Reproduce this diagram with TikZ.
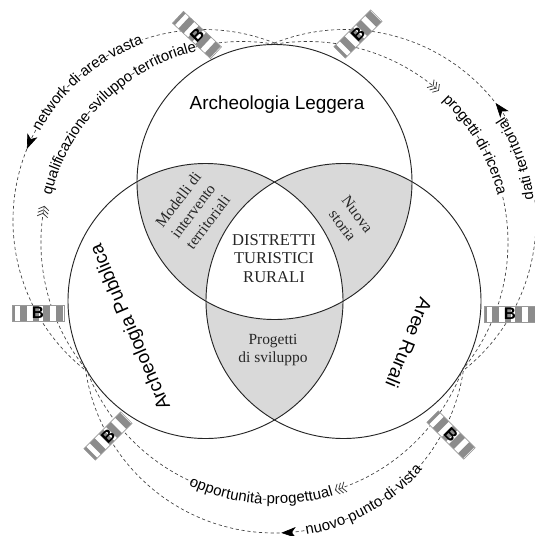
\documentclass[tikz,border=0pt]{standalone}
\usepackage{fontspec}
\setmainfont{Liberation Serif}
\setsansfont{Liberation Sans}
\usetikzlibrary{decorations.text,arrows.meta}
\definecolor{regiongray}{gray}{0.85}
\definecolor{bargray}{gray}{0.55}
\tikzset{
  x=0.75pt,y=-0.75pt,
  venn/.style={draw=black!85,line width=0.7pt},
  flow/.style={draw=black!75,line width=0.5pt,dash pattern=on 2.4pt off 2pt},
  gapstroke/.style={draw=black!75,line width=0.5pt},
  solidhead/.style={-{Stealth[length=11pt,width=8pt,inset=3pt,black]}},
  chevrons/.style={-{Straight Barb[length=2.6pt,width=8pt,black!75,line width=.6pt,sep=-0.6pt] Straight Barb[length=2.6pt,width=8pt,black!75,line width=.6pt,sep=-0.6pt] Straight Barb[length=2.6pt,width=8pt,black!75,line width=.6pt]}},
  maintitle/.style={font=\sffamily\fontsize{14.2}{17}\selectfont},
  serifsmall/.style={font=\rmfamily\fontsize{11.6}{13.9}\selectfont,align=center,text=black!85},
  gatelabel/.style={font=\sffamily\bfseries\fontsize{12.5}{13}\selectfont,inner sep=0pt},
  pics/gate/.style={code={
    \fill[white] (-26,-8) rectangle (26,8);
    \foreach \a/\b in {-26/-23,-18/-11,-5/1,5/12,18/25}{\fill[bargray] (\a,-8) rectangle (\b,8);}
    \draw[black!40,line width=0.5pt] (-26,-8) rectangle (26,8);
    \node[gatelabel,rotate=#1] at (0,0) {B};
  }}
}
\newcommand{\ringtext}[6]{% center-x, center-y, radius, start, end, text
  \path[decorate,decoration={text along path,text align=center,raise=-3.4pt,
    text={|\sffamily\fontsize{11.2}{13}\selectfont|#6}}]
    ([shift={(#4:#3)}]#1,#2) arc[start angle=#4,end angle=#5,radius=#3];}
\newcommand{\gapdash}[4]{% center-x, center-y, radius, list of angles
  \foreach \g in {#4}{
    \draw[gapstroke] ([shift={(\g-0.5:#3)}]#1,#2) arc[start angle=\g-0.5,end angle=\g+0.5,radius=#3];}}
\begin{document}
\begin{tikzpicture}
\useasboundingbox (0,0) rectangle (535,536);
\coordinate (ctop) at (274.5,182);
\coordinate (cleft) at (205.5,301);
\coordinate (cright) at (343.5,301);
% shaded lens regions
\begin{scope}
  \clip (ctop) circle[radius=137.5*0.75pt];
  \fill[regiongray] (cleft) circle[radius=137.5*0.75pt];
  \fill[regiongray] (cright) circle[radius=137.5*0.75pt];
\end{scope}
\begin{scope}
  \clip (cleft) circle[radius=137.5*0.75pt];
  \fill[regiongray] (cright) circle[radius=137.5*0.75pt];
\end{scope}
\begin{scope}
  \clip (cleft) circle[radius=137.5*0.75pt];
  \clip (cright) circle[radius=137.5*0.75pt];
  \fill[white] (ctop) circle[radius=137.5*0.75pt];
\end{scope}
\draw[venn] (ctop) circle[radius=137.5*0.75pt];
\draw[venn] (cleft) circle[radius=137.5*0.75pt];
\draw[venn] (cright) circle[radius=137.5*0.75pt];
\def\Rr{143.25pt}\def\Ri{150.75pt}\def\Rrin{139pt}
% outer left
\draw[flow] ([shift={(68.2:\Rr)}]204,220.5) arc[start angle=68.2,end angle=108.8,radius=\Rr];
\draw[flow] ([shift={(158:\Rr)}]204,220.5) arc[start angle=158,end angle=231.3,radius=\Rr];
% inner left
\draw[flow] ([shift={(80.7:\Ri)}]242,242.5) arc[start angle=80.7,end angle=103.4,radius=\Ri];
\draw[flow,chevrons] ([shift={(218.8:\Ri)}]242,242.5) arc[start angle=218.8,end angle=169.5,radius=\Ri];
% outer right
\draw[flow] ([shift={(111.8:\Rr)}]345,220.5) arc[start angle=111.8,end angle=38,radius=\Rr];
\draw[flow] ([shift={(6.2:\Rr)}]345,220.5) arc[start angle=6.2,end angle=-51.3,radius=\Rr];
% inner right
\draw[flow,chevrons] ([shift={(99.3:\Ri)}]307,242.5) arc[start angle=99.3,end angle=49,radius=\Ri];
\draw[flow] ([shift={(13.1:\Ri)}]307,242.5) arc[start angle=13.1,end angle=-38.8,radius=\Ri];
% outer bottom
\draw[flow] ([shift={(187.9:\Rr)}]274.5,342) arc[start angle=187.9,end angle=272,radius=\Rr];
\draw[flow] ([shift={(318.6:\Rr)}]274.5,342) arc[start angle=318.6,end angle=352.1,radius=\Rr];
% inner bottom
\draw[flow] ([shift={(200.2:\Ri)}]274.5,298.5) arc[start angle=200.2,end angle=246.2,radius=\Ri];
\draw[flow,chevrons] ([shift={(339.8:\Ri)}]274.5,298.5) arc[start angle=339.8,end angle=287.5,radius=\Ri];
% dashes showing through the word spaces
\gapdash{204}{220.5}{\Rr}{135.2,130.5,120.3}
\gapdash{242}{242.5}{\Ri}{139.65,122.85}
\gapdash{307}{242.5}{\Ri}{31.6,27.1}
\gapdash{345}{220.5}{\Rrin}{15.7}
\gapdash{274.5}{298.5}{\Ri}{267.1}
\gapdash{274.5}{342}{\Rr}{292.2,304.7,309.4}
% ring texts
\ringtext{204}{220.5}{\Rr}{151.7}{108.8}{network di area vasta}
\ringtext{242}{242.5}{\Ri}{166}{103.4}{qualificazione sviluppo territoriale}
\ringtext{307}{242.5}{\Ri}{47.1}{13.1}{progetti di ricerca}
\ringtext{345}{220.5}{\Rrin}{7.7}{32.9}{dati territoriali}
\ringtext{274.5}{298.5}{\Ri}{246.2}{286.7}{opportunità progettuali}
\ringtext{274.5}{342}{\Rr}{280}{318.6}{nuovo punto di vista}
% solid heads
\draw[flow,solidhead] ([shift={(151.7:\Rr)}]204,220.5) arc[start angle=151.7,end angle=158,radius=\Rr];
\draw[flow,solidhead] ([shift={(31.4:\Rr)}]345,220.5) arc[start angle=31.4,end angle=38,radius=\Rr];
\draw[flow,solidhead] ([shift={(279:\Rr)}]274.5,342) arc[start angle=279,end angle=272,radius=\Rr];
% gates
\pic[rotate=-43] at (197,35) {gate=45};
\pic[rotate=45] at (358,34) {gate=45};
\pic at (38,313) {gate=0};
\pic at (510,314) {gate=0};
\pic[rotate=45] at (108,436) {gate=45};
\pic[rotate=-45] at (451,435) {gate=-45};
% labels
\node[maintitle] (t1) at (277,105) {Archeologia Leggera};
\node[maintitle,rotate=113] (t2) at (131,327) {Archeologia Pubblica};
\node[maintitle,rotate=-112] (t3) at (409,343) {Aree Rurali};
\node[serifsmall,rotate=53] (m1) at (193,211) {Modelli di\\intervento\\territoriali};
\node[serifsmall,rotate=-53] (m2) at (350,220) {Nuova\\storia};
\node[serifsmall] (m3) at (273,350) {Progetti\\di sviluppo};
\node[serifsmall,font=\rmfamily\fontsize{12.4}{13.9}\selectfont] (m4) at (274,258.5) {DISTRETTI\\TURISTICI\\RURALI};
\end{tikzpicture}
\end{document}
